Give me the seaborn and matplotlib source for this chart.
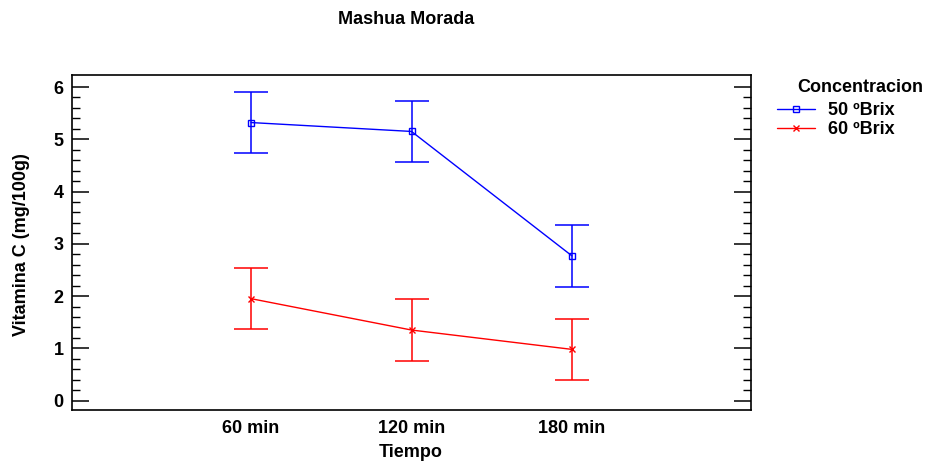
import numpy as np
import pandas as pd
import matplotlib
matplotlib.use("Agg")
import matplotlib.pyplot as plt
from matplotlib.ticker import MultipleLocator, FixedLocator
import seaborn as sns

# data
tiempo = [60, 120, 180]
tiempo_labels = ["60 min", "120 min", "180 min"]
series = ["50 ºBrix", "60 ºBrix"]
media_50 = [5.32, 5.15, 2.77]
media_60 = [1.95, 1.35, 0.98]
error_50 = [0.59, 0.59, 0.59]
error_60 = [0.58, 0.59, 0.59]

df = pd.DataFrame({
    "Tiempo": tiempo * 2,
    "Vitamina": media_50 + media_60,
    "Error": error_50 + error_60,
    "Concentracion": [series[0]] * 3 + [series[1]] * 3,
})

sns.set_style("white")
plt.rcParams["font.family"] = ["Liberation Sans", "DejaVu Sans"]
plt.rcParams["font.weight"] = "bold"
plt.rcParams["text.color"] = "black"
plt.rcParams["xtick.color"] = "black"
plt.rcParams["ytick.color"] = "black"
plt.rcParams["axes.labelcolor"] = "black"

colors = {series[0]: "#0000ff", series[1]: "#ff0000"}
markers = {series[0]: "s", series[1]: "x"}
fs = 13

W, H = 932, 461
fig = plt.figure(figsize=(W / 100, H / 100), dpi=100)
# axes box: left 72, right 751, top 75, bottom 410 (pixels)
ax = fig.add_axes([72 / W, (H - 410) / H, 679 / W, 335 / H])

for name in series:
    sub = df[df["Concentracion"] == name]
    # error bars
    ax.errorbar(sub["Tiempo"], sub["Vitamina"], yerr=sub["Error"], fmt="none",
                ecolor=colors[name], elinewidth=1.1, capsize=11.9, capthick=1.1)
    # means
    sns.lineplot(data=sub, x="Tiempo", y="Vitamina", color=colors[name],
                 marker=markers[name], markersize=4, markerfacecolor="none",
                 markeredgecolor=colors[name], markeredgewidth=1,
                 linewidth=1, label=name, ax=ax)

ax.set_xlim(-7, 247)
ax.set_ylim(-0.18, 6.23)
ax.set_xticks(tiempo)
ax.set_xticklabels(tiempo_labels)
ax.yaxis.set_major_locator(MultipleLocator(1))
ax.yaxis.set_minor_locator(FixedLocator(np.arange(0, 6.01, 0.2)))
ax.tick_params(axis="y", which="major", direction="in", length=12, width=1.1,
               left=True, right=True, labelsize=fs, pad=6)
ax.tick_params(axis="y", which="minor", direction="in", length=6, width=1,
               left=True, right=True)
ax.tick_params(axis="x", length=0, labelsize=fs, pad=7)
for s in ax.spines.values():
    s.set_color("black")
    s.set_linewidth(1.2)

ax.set_xlabel("")
ax.set_ylabel("")
fig.text(411 / W, 1 - 452 / H, "Tiempo", ha="center", va="center",
         fontsize=fs, fontweight="bold")
fig.text(22 / W, 1 - 245 / H, "Vitamina C (mg/100g)", ha="center", va="center",
         rotation=90, fontsize=fs, fontweight="bold")
fig.text(406 / W, 1 - 20 / H, "Mashua Morada", ha="center", va="center",
         fontsize=fs, fontweight="bold")
fig.text(860 / W, 1 - 88 / H, "Concentracion", ha="center", va="center",
         fontsize=fs, fontweight="bold")

leg = ax.legend(loc="upper left", bbox_to_anchor=(777 / W, 1 - 102 / H),
                bbox_transform=fig.transFigure, frameon=False, fontsize=fs,
                handlelength=2.1, handletextpad=0.75, borderaxespad=0,
                borderpad=0, labelspacing=0.12)
for t in leg.get_texts():
    t.set_fontweight("bold")

fig.savefig("out.png", dpi=100)
